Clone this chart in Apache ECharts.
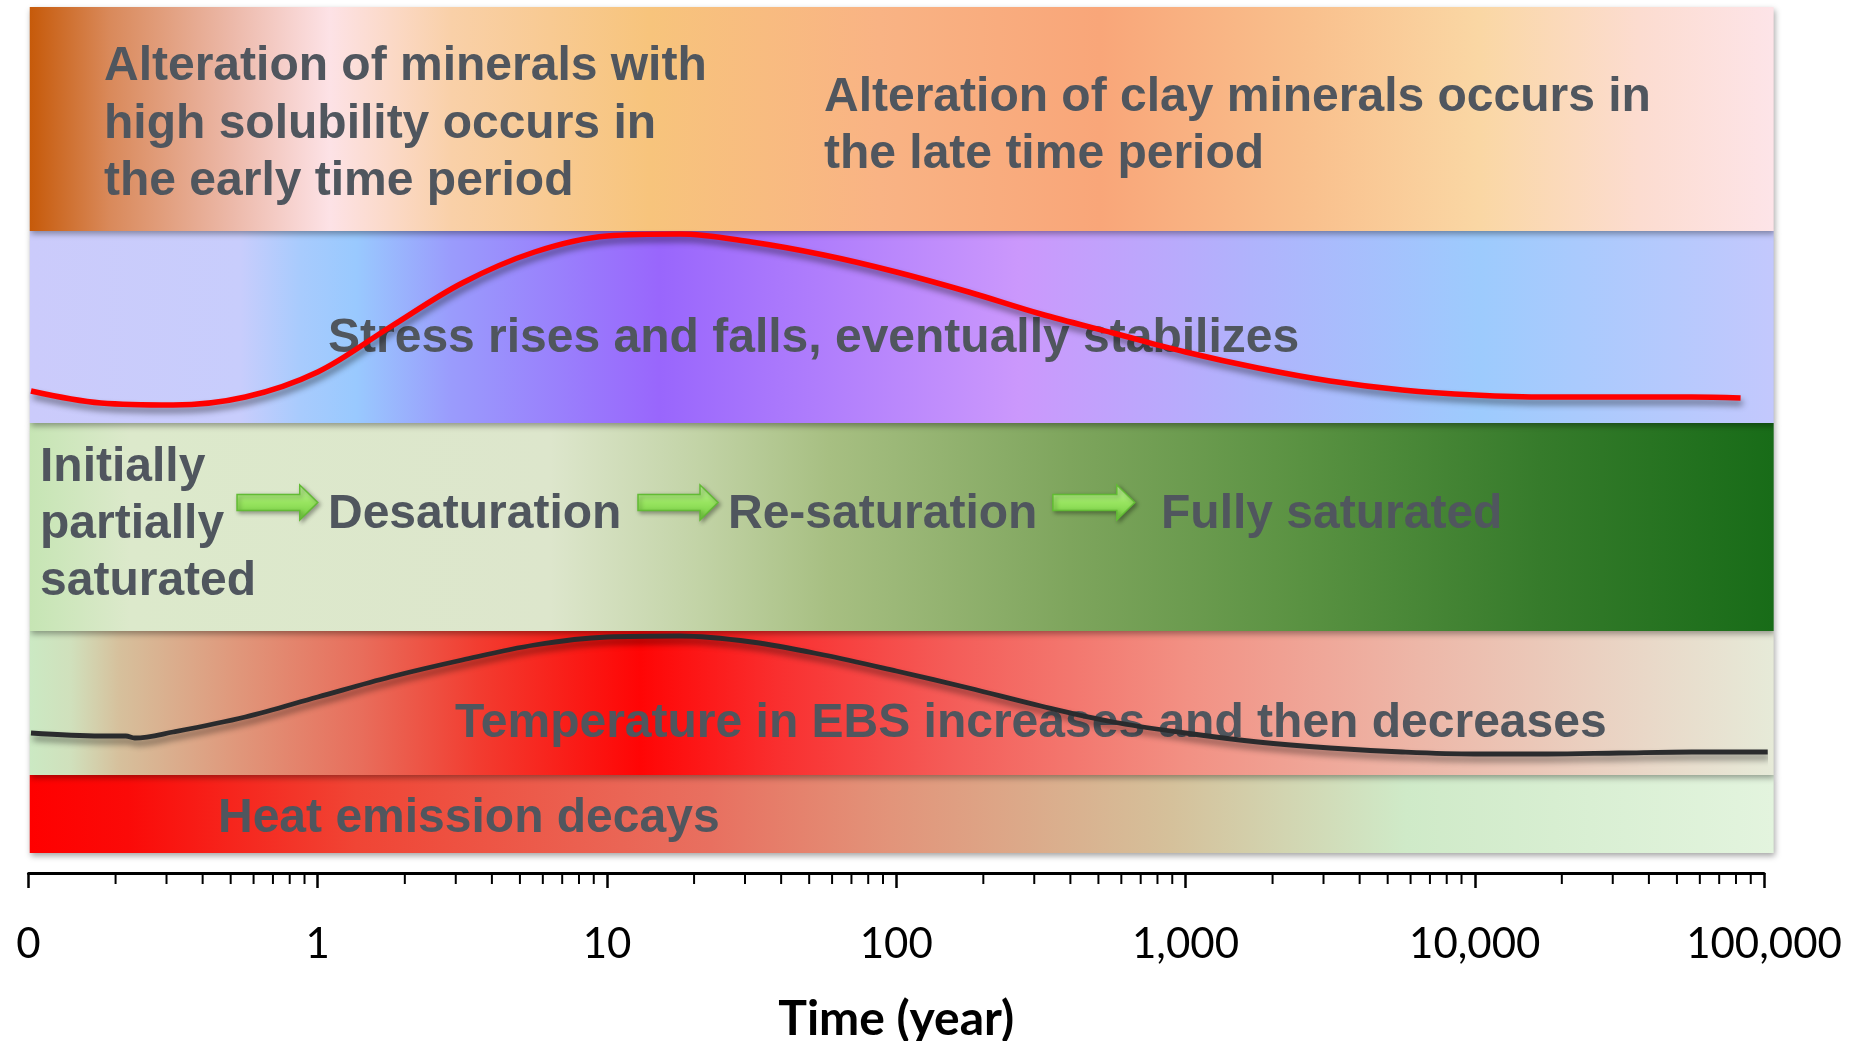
<!DOCTYPE html>
<html>
<head>
<meta charset="utf-8">
<title>EBS evolution over time</title>
<script src="https://cdn.jsdelivr.net/npm/echarts@6.0.0/dist/echarts.min.js"></script>
<style>
    html, body {margin: 0; padding: 0; background: #fff;}
    #main {width: 1862px; height: 1041px;}
</style>
</head>
<body>
<div id="main"></div>
<script>
// axis
var decades = [0.1, 1, 10, 100, 1000, 10000];
var minorSteps = [2, 3, 4, 5, 6, 7, 8, 9];

// bands, bottom to top (level = px above the axis line)
var bandNames = ['Heat emission', 'Temperature', 'Saturation', 'Stress', 'Mineral alteration'];
var bandLow = [20, 98, 242, 450, 642];
var bandHigh = [98, 242, 450, 642, 866];
var bandFrom = 0.101, bandTo = 108000;

// colour stops: [year, colour]
var heatStops = [[0.101, '#ff0000'], [0.22, '#fb0a08'], [1.36, '#f04535'], [23, '#e87060'], [95, '#e2947a'],
    [870, '#d5c09a'], [5780, '#cfeac8'], [108000, '#e3f4de']];
var tempStops = [[0.101, '#cbe9c3'], [0.14, '#d0e0bc'], [0.206, '#d6c09c'], [0.54, '#e0967a'], [1.4, '#e86e5c'],
    [3.6, '#f23c30'], [13, '#ff0505'], [40, '#f93030'], [153, '#f45c58'], [1030, '#f29184'],
    [6460, '#edb7a8'], [39800, '#e9d8c8'], [108000, '#e6ead8']];
var satStops = [[0.101, '#c6e5b4'], [0.224, '#dce9cb'], [6.35, '#dde6cc'], [20.9, '#c2d3a6'], [58.6, '#a7bf82'],
    [398, '#7ea55d'], [2480, '#5a9242'], [16800, '#367b2b'], [108000, '#186c18']];
var stressStops = [[0.101, '#cbcbfb'], [0.54, '#c8cdfc'], [0.87, '#a8cbfd'], [1.36, '#99c9fe'], [2.86, '#9a9cfc'],
    [15.2, '#9966fc'], [39.6, '#aa78fc'], [267, '#cb98fc'], [1670, '#b0b3fc'], [10400, '#9dcbfd'],
    [108000, '#c3c8fd']];
var alterStops = [[0.101, '#c65a0a'], [0.19, '#d9895a'], [0.5, '#ecb8a8'], [1.1, '#fde2e6'], [2.9, '#f9d0a8'],
    [14, '#f7c47c'], [88, '#f9b384'], [506, '#f9a679'], [2480, '#f9bf8c'], [10400, '#fad7a4'],
    [37200, '#fcdcd0'], [108000, '#fde4e8']];
var bandStops = [heatStops, tempStops, satStops, stressStops, alterStops];

// stress curve
var stressYears = [0.102, 0.178, 0.316, 0.562, 1, 1.78, 3.16, 5.62, 10, 17.8, 31.6, 56.2, 100,
    178, 316, 562, 1000, 1780, 3160, 5620, 10000, 17800, 31600, 56200, 83000];
var stressLevel = [482, 470, 468, 476, 501, 546, 590, 621, 637, 639, 631, 618, 601,
    581, 559, 540, 521, 505, 492, 483, 478, 476, 476, 476, 475];

// temperature curve
var tempYears = [0.102, 0.178, 0.217, 0.233, 0.316, 0.562, 1, 1.78, 3.16, 5.62, 10, 17.8, 31.6,
    56.2, 100, 178, 316, 562, 1000, 1780, 3160, 5620, 10000, 17800, 31600, 56200, 103000];
var tempLevel = [140, 137, 137, 135, 141, 156, 176, 196, 213, 228, 236, 237, 231,
    218, 202, 185, 167, 151, 140, 131, 125, 121, 119, 119, 120, 121, 121];

// arrows between saturation stages: [from year, to year]
var arrowFrom = [0.526, 12.8, 348];
var arrowTo = [1.0, 24.2, 668];
var arrowLevel = 370.5;

var textFont = '"Liberation Sans", Arial, sans-serif';
var textColor = '#50565e';

function pairs(xs, ys) {
    return xs.map(function (x, i) { return [x, ys[i]]; });
}

function renderBand(params, api) {
    var i = params.dataIndex;
    var a = api.coord([bandFrom, bandHigh[i]]);
    var b = api.coord([bandTo, bandLow[i]]);
    var w = b[0] - a[0];
    var stops = bandStops[i].map(function (s) {
        var off = (api.coord([s[0], 0])[0] - a[0]) / w;
        return {offset: Math.min(1, Math.max(0, off)), color: s[1]};
    });
    return {
        type: 'rect',
        shape: {x: a[0], y: a[1], width: w, height: b[1] - a[1]},
        style: {
            fill: new echarts.graphic.LinearGradient(0, 0, 1, 0, stops),
            shadowBlur: 6, shadowOffsetX: 1, shadowOffsetY: 3, shadowColor: 'rgba(0,0,0,0.35)'
        }
    };
}

function renderArrow(params, api) {
    var i = params.dataIndex;
    var s = api.coord([arrowFrom[i], arrowLevel]);
    var e = api.coord([arrowTo[i], arrowLevel]);
    var y = s[1], h = 18;
    return {
        type: 'polygon',
        shape: {points: [[s[0], y - 8], [e[0] - h, y - 8], [e[0] - h, y - 17.5], [e[0], y],
            [e[0] - h, y + 17.5], [e[0] - h, y + 8], [s[0], y + 8]]},
        style: {
            fill: new echarts.graphic.LinearGradient(0, 0, 0, 1, [
                {offset: 0, color: '#c8f8a4'}, {offset: 0.5, color: '#98e460'}, {offset: 1, color: '#72cc3e'}]),
            stroke: '#62bb34', lineWidth: 1.5,
            shadowBlur: 4, shadowOffsetX: 2, shadowOffsetY: 2, shadowColor: 'rgba(0,0,0,0.35)'
        }
    };
}

function renderMinorTick(params, api) {
    var p = api.coord([api.value(0), 0]);
    return {
        type: 'line',
        shape: {x1: p[0], y1: p[1], x2: p[0], y2: p[1] + 11},
        style: {stroke: '#000', lineWidth: 2}
    };
}

var minorTicks = [];
decades.forEach(function (d) {
    minorSteps.forEach(function (s) { minorTicks.push([d * s, 0]); });
});

function note(str, x, baseline) {
    return {
        type: 'text', x: x, y: baseline - 12, z: 3,
        style: {text: str, fontFamily: textFont, fontWeight: 'bold', fontSize: 48,
            fill: textColor, verticalAlign: 'middle', align: 'left'}
    };
}

var curveShadow = {shadowColor: 'rgba(0,0,0,0.45)', shadowBlur: 6, shadowOffsetX: 2, shadowOffsetY: 5};

var myChart = echarts.init(document.getElementById('main'));
var option = {
    animation: false,
    grid: {left: 28.5, right: 98, top: 7, bottom: 168, containLabel: false, outerBoundsMode: 'none'},
    xAxis: {
        type: 'log',
        logBase: 10,
        min: 0.1,
        max: 100000,
        name: 'Time (year)',
        nameLocation: 'middle',
        nameGap: 123,
        nameTextStyle: {fontFamily: 'Lato', fontWeight: 'bold', fontSize: 48, color: '#000'},
        axisLine: {lineStyle: {color: '#000', width: 3}},
        axisTick: {length: 15, lineStyle: {color: '#000', width: 2.5}},
        axisLabel: {
            margin: 50, fontFamily: 'Lato', fontSize: 42, color: '#000',
            showMinLabel: true, showMaxLabel: true,
            formatter: function (v) {
                return v < 1 ? '0' : Math.round(v).toLocaleString('en-US');
            }
        },
        splitLine: {show: false}
    },
    yAxis: {type: 'value', min: 0, max: 866, show: false},
    graphic: [
        note('Alteration of minerals with', 104, 79),
        note('high solubility occurs in', 104, 137),
        note('the early time period', 104, 194),
        note('Alteration of clay minerals occurs in', 824, 110),
        note('the late time period', 824, 167),
        note('Stress rises and falls, eventually stabilizes', 328, 351),
        note('Initially', 40, 480),
        note('partially', 40, 537),
        note('saturated', 40, 594),
        note('Desaturation', 328, 527),
        note('Re-saturation', 728, 527),
        note('Fully saturated', 1161, 527),
        note('Temperature in EBS increases and then decreases', 455, 736),
        note('Heat emission decays', 218, 831)
    ],
    series: [
        {
            type: 'custom', name: 'bands', z: 1, silent: true,
            renderItem: renderBand,
            data: bandLow.map(function (v) { return [bandFrom, v]; })
        },
        {
            type: 'custom', name: 'arrows', z: 3, silent: true,
            renderItem: renderArrow,
            data: arrowFrom.map(function (t) { return [t, arrowLevel]; })
        },
        {
            type: 'line', name: 'Stress', z: 5, clip: false,
            data: pairs(stressYears, stressLevel),
            smooth: 0.35, symbol: 'none',
            lineStyle: Object.assign({color: '#ff0000', width: 5.5}, curveShadow)
        },
        {
            type: 'line', name: 'Temperature', z: 5, clip: false,
            data: pairs(tempYears, tempLevel),
            smooth: 0.35, symbol: 'none',
            lineStyle: Object.assign({color: '#2a2b2d', width: 4.8}, curveShadow)
        },
        {
            type: 'custom', name: 'minor ticks', z: 6, silent: true,
            renderItem: renderMinorTick,
            data: minorTicks
        }
    ]
};
myChart.setOption(option);
</script>
</body>
</html>
